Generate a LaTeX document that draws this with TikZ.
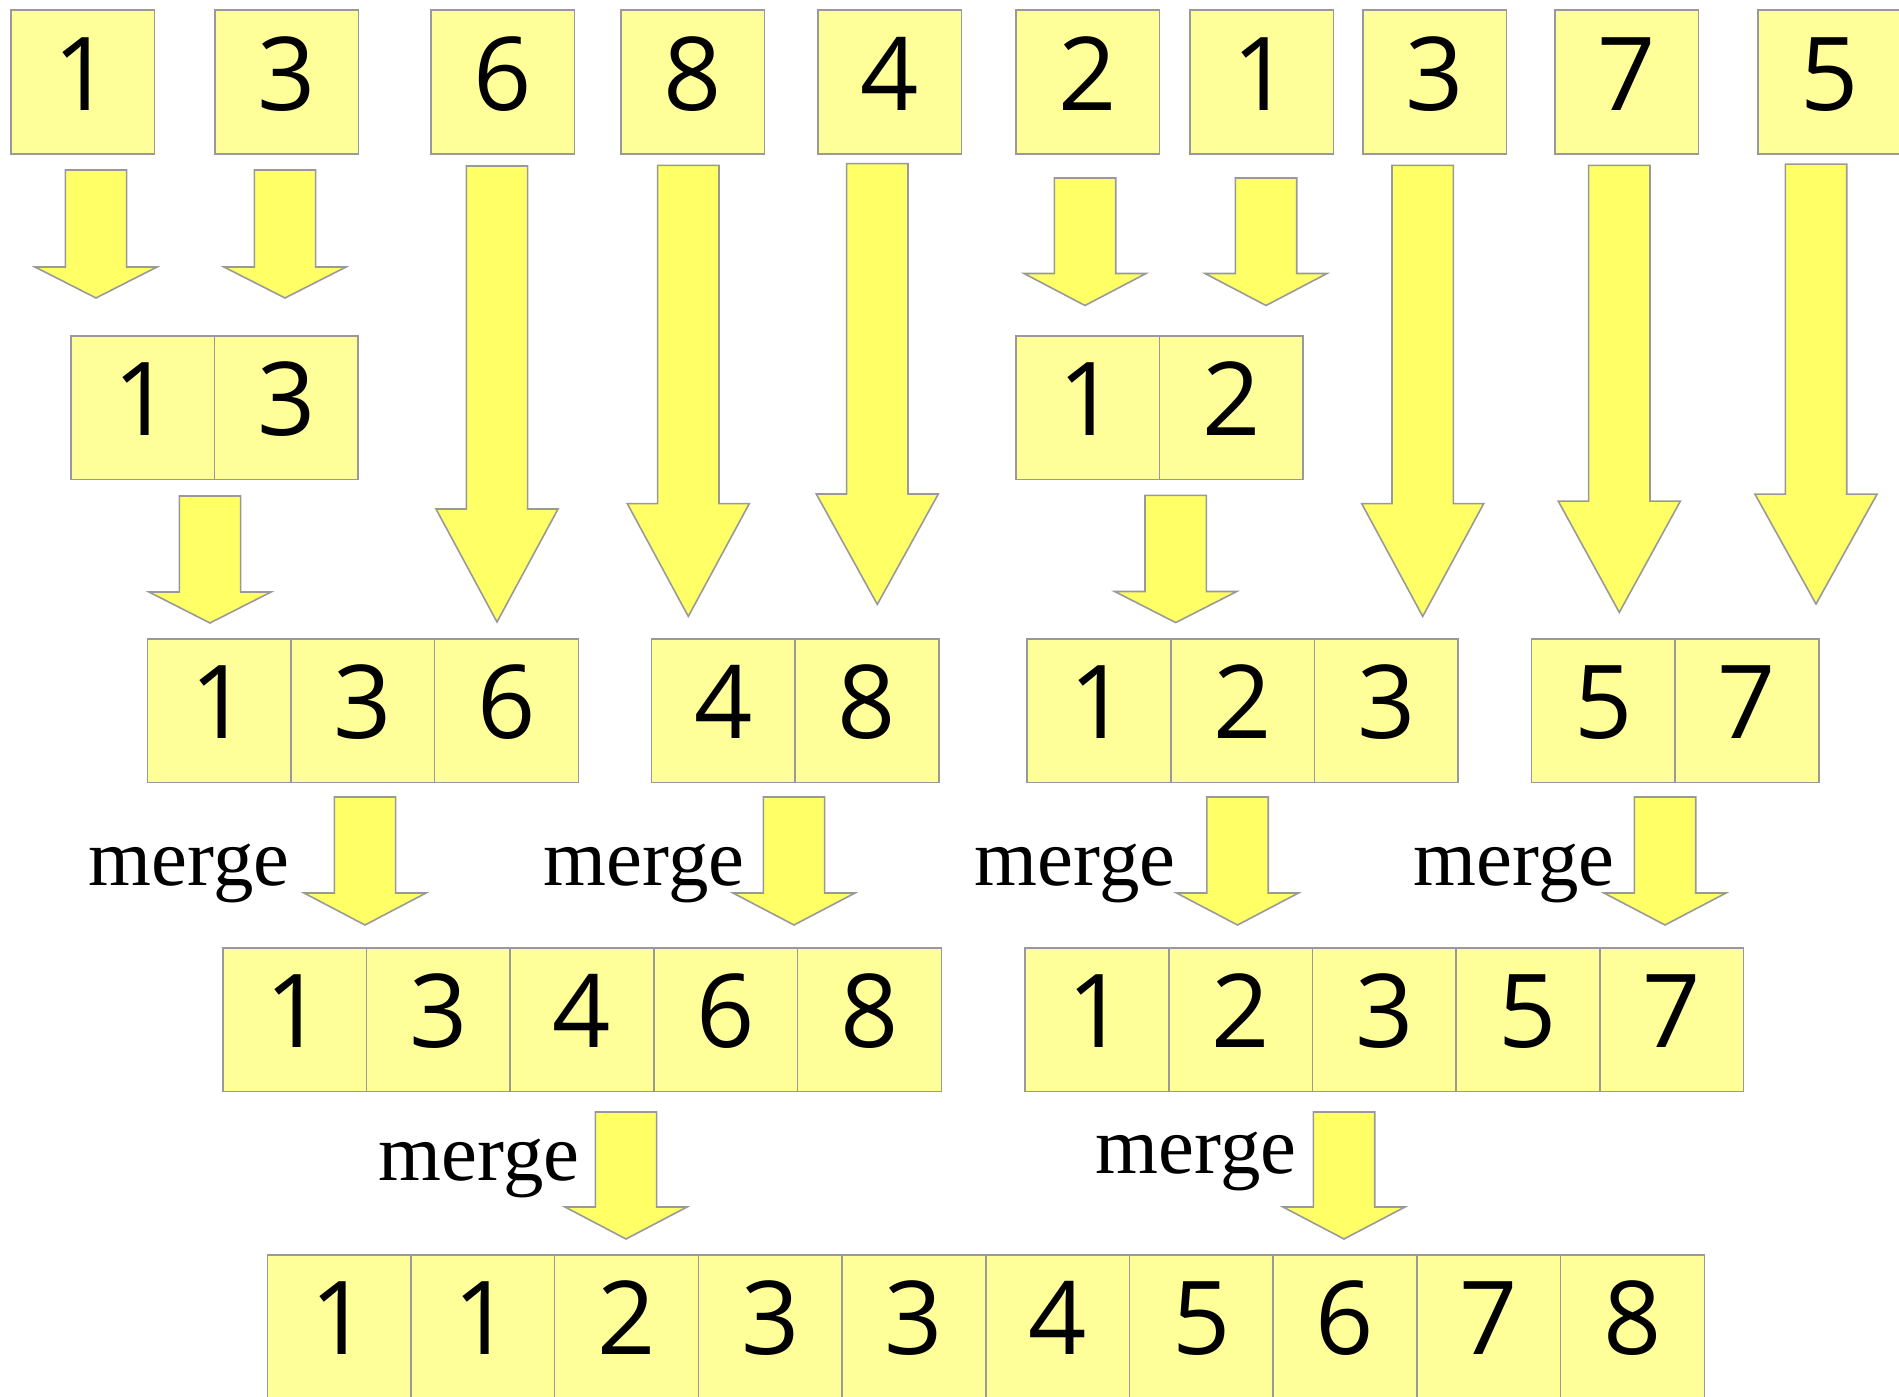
\documentclass[tikz,border=0pt]{standalone}
\usepackage{fontspec}
\setmainfont{Liberation Serif}
\newfontfamily\digitfont{Open Sans}
\usepackage{xcolor}
\usepackage{tikz}

\definecolor{boxyellow}{HTML}{FFFF99}
\definecolor{arrowyellow}{HTML}{FFFF66}
\definecolor{edgegray}{HTML}{999999}

\tikzset{
  cell/.style={draw=edgegray,fill=boxyellow,line width=0.45pt,anchor=north west,
    inner sep=0pt,minimum width=1.437cm,minimum height=1.437cm,
    text height=0.73cm,text depth=0.17cm,font=\digitfont\fontsize{29}{30}\selectfont},
  blockarr/.style={draw=edgegray,fill=arrowyellow,line width=0.45pt},
  mergelbl/.style={anchor=base west,inner sep=0pt,font=\fontsize{23}{25}\selectfont}
}

% block arrow pointing down: centre x, top, start of head, tip
\newcommand{\blockdown}[4]{%
  \draw[blockarr] (#1-30.7,#2) -- (#1+30.7,#2) -- (#1+30.7,#3) -- (#1+61,#3)
    -- (#1,#4) -- (#1-61,#3) -- (#1-30.7,#3) -- cycle;}

\begin{document}
\begin{tikzpicture}[x=0.01cm,y=-0.01cm]
    \useasboundingbox (0,0) rectangle (1899,1397);

    % unsorted input
    \node[cell] (in1) at (10,9.5) {1};
    \node[cell] (in2) at (214,9.5) {3};
    \node[cell] (in3) at (430,9.5) {6};
    \node[cell] (in4) at (620,9.5) {8};
    \node[cell] (in5) at (817,9.5) {4};
    \node[cell] (in6) at (1015,9.5) {2};
    \node[cell] (in7) at (1189,9.5) {1};
    \node[cell] (in8) at (1362,9.5) {3};
    \node[cell] (in9) at (1554,9.5) {7};
    \node[cell] (in10) at (1757,9.5) {5};

    % pairs
    \node[cell] (p1) at (70,335) {1};
    \node[cell] (p2) at (213.7,335) {3};
    \node[cell] (q1) at (1015,335) {1};
    \node[cell] (q2) at (1158.7,335) {2};

    % runs of two and three
    \node[cell] (s1) at (146.5,638) {1};
    \node[cell] (s2) at (290.2,638) {3};
    \node[cell] (s3) at (433.9,638) {6};
    \node[cell] (t1) at (650.7,638) {4};
    \node[cell] (t2) at (794.4,638) {8};
    \node[cell] (u1) at (1026.3,638) {1};
    \node[cell] (u2) at (1170,638) {2};
    \node[cell] (u3) at (1313.7,638) {3};
    \node[cell] (v1) at (1530.5,638) {5};
    \node[cell] (v2) at (1674.2,638) {7};

    % halves
    \node[cell] (h1) at (222,947) {1};
    \node[cell] (h2) at (365.7,947) {3};
    \node[cell] (h3) at (509.4,947) {4};
    \node[cell] (h4) at (653.1,947) {6};
    \node[cell] (h5) at (796.8,947) {8};
    \node[cell] (k1) at (1024.3,947) {1};
    \node[cell] (k2) at (1168,947) {2};
    \node[cell] (k3) at (1311.7,947) {3};
    \node[cell] (k4) at (1455.4,947) {5};
    \node[cell] (k5) at (1599.1,947) {7};

    % sorted output
    \node[cell] (out1) at (266.5,1254) {1};
    \node[cell] (out2) at (410.2,1254) {1};
    \node[cell] (out3) at (553.9,1254) {2};
    \node[cell] (out4) at (697.6,1254) {3};
    \node[cell] (out5) at (841.3,1254) {3};
    \node[cell] (out6) at (985,1254) {4};
    \node[cell] (out7) at (1128.7,1254) {5};
    \node[cell] (out8) at (1272.4,1254) {6};
    \node[cell] (out9) at (1416.1,1254) {7};
    \node[cell] (out10) at (1559.8,1254) {8};

    % short arrows
    \blockdown{96}{170}{267}{298}
    \blockdown{285}{170}{267}{298}
    \blockdown{1085}{178}{273.5}{305.5}
    \blockdown{1266}{178}{273.5}{305.5}
    \blockdown{210}{496}{592}{623}
    \blockdown{1175.7}{495.4}{591.5}{622.6}

    % long arrows
    \blockdown{497}{166}{509}{622}
    \blockdown{688.3}{165.3}{503.6}{616.4}
    \blockdown{877.3}{163.7}{494}{604.4}
    \blockdown{1422.7}{165.3}{503.6}{616.4}
    \blockdown{1619.3}{165.4}{501.2}{612.4}
    \blockdown{1816}{164.2}{494.2}{604}

    % merge steps
    \blockdown{365}{797}{893}{925}
    \blockdown{794}{797}{893}{925}
    \blockdown{1237.5}{797}{893}{925}
    \blockdown{1665}{797}{893}{925}
    \blockdown{626}{1112}{1207}{1239}
    \blockdown{1344}{1112}{1207}{1239}

    \node[mergelbl] (m1) at (88,885) {merge};
    \node[mergelbl] (m2) at (543,885) {merge};
    \node[mergelbl] (m3) at (974,885) {merge};
    \node[mergelbl] (m4) at (1413,885) {merge};
    \node[mergelbl] (m5) at (378,1180) {merge};
    \node[mergelbl] (m6) at (1095,1173) {merge};
\end{tikzpicture}
\end{document}
